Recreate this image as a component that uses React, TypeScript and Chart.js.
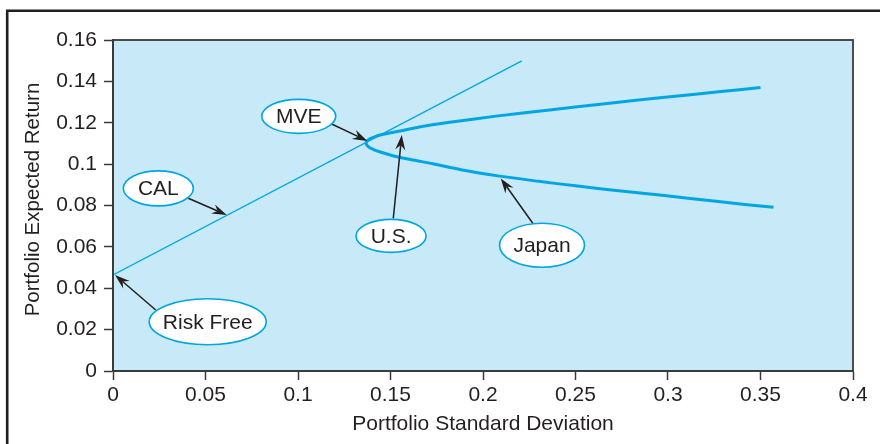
import React, { useEffect, useRef } from 'react';
import { Chart, registerables } from 'chart.js';

Chart.register(...registerables);

// ---- data ----
const calSigma = [0, 0.221];
const calReturn = [0.0464, 0.1499];

const frontierSigma = [
  0.35, 0.33, 0.297, 0.266, 0.236, 0.207, 0.182, 0.167, 0.155, 0.145, 0.1414, 0.1389, 0.1373, 0.1368,
  0.1372, 0.1384, 0.1404, 0.1432, 0.1508, 0.1609, 0.1729, 0.188, 0.209, 0.23, 0.25, 0.272, 0.298, 0.326, 0.357,
];
const frontierReturn = [
  0.137, 0.1352, 0.1322, 0.1292, 0.1262, 0.1232, 0.1202, 0.1182, 0.116, 0.1142, 0.1132, 0.1122, 0.1112, 0.1102,
  0.1092, 0.1082, 0.1072, 0.1062, 0.1042, 0.1022, 0.1002, 0.0973, 0.0942, 0.0917, 0.0895, 0.0873, 0.0848, 0.082, 0.0791,
];

const xTickLabels = ['0', '0.05', '0.1', '0.15', '0.2', '0.25', '0.3', '0.35', '0.4'];
const yTickLabels = ['0', '0.02', '0.04', '0.06', '0.08', '0.1', '0.12', '0.14', '0.16'];

const xTitle = 'Portfolio Standard Deviation';
const yTitle = 'Portfolio Expected Return';

const noteLabels = ['MVE', 'CAL', 'Risk Free', 'U.S.', 'Japan'];

// ---- annotation layout (data coordinates) ----
const noteLayout = [
  { cx: 0.1004, cy: 0.1231, rx: 37, ry: 17, fx: 0.1182, fy: 0.1194, tx: 0.1375, ty: 0.1112 },
  { cx: 0.0245, cy: 0.0883, rx: 35, ry: 17.5, fx: 0.0407, fy: 0.0835, tx: 0.0615, ty: 0.0754 },
  { cx: 0.0512, cy: 0.0238, rx: 58.5, ry: 23, fx: 0.0231, fy: 0.0295, tx: 0.0011, ty: 0.0464 },
  { cx: 0.1503, cy: 0.0653, rx: 35, ry: 16.5, fx: 0.1515, fy: 0.0738, tx: 0.1561, ty: 0.1141 },
  { cx: 0.2319, cy: 0.0608, rx: 42.5, ry: 22, fx: 0.2269, fy: 0.0714, tx: 0.2096, ty: 0.0931 },
];

const FONT = '"Liberation Sans", Arial, Helvetica, sans-serif';
const INK = '#231f20';
const BLUE = '#00a6e4';
const PLOT_BG = '#c7e9f8';

function drawArrow(ctx: CanvasRenderingContext2D, x1: number, y1: number, x2: number, y2: number) {
  const ang = Math.atan2(y2 - y1, x2 - x1);
  const len = 15;
  const half = 5;
  const notch = 10;
  const bx = x2 - Math.cos(ang) * notch;
  const by = y2 - Math.sin(ang) * notch;
  ctx.save();
  ctx.strokeStyle = INK;
  ctx.fillStyle = INK;
  ctx.lineWidth = 1.5;
  ctx.beginPath();
  ctx.moveTo(x1, y1);
  ctx.lineTo(bx, by);
  ctx.stroke();
  const px = -Math.sin(ang);
  const py = Math.cos(ang);
  const baseX = x2 - Math.cos(ang) * len;
  const baseY = y2 - Math.sin(ang) * len;
  ctx.beginPath();
  ctx.moveTo(x2, y2);
  ctx.lineTo(baseX + px * half, baseY + py * half);
  ctx.lineTo(bx, by);
  ctx.lineTo(baseX - px * half, baseY - py * half);
  ctx.closePath();
  ctx.fill();
  ctx.restore();
}

const decorPlugin = {
  id: 'decor',
  beforeDraw(chart: any) {
    const { ctx, chartArea: a } = chart;
    ctx.save();
    ctx.fillStyle = '#ffffff';
    ctx.fillRect(0, 0, chart.width, chart.height);
    ctx.fillStyle = PLOT_BG;
    ctx.fillRect(a.left, a.top, a.right - a.left, a.bottom - a.top);
    ctx.restore();
  },
  afterDatasetsDraw(chart: any) {
    const { ctx, chartArea: a, scales } = chart;
    const xs = scales.x;
    const ys = scales.y;
    ctx.save();
    ctx.strokeStyle = '#3a3a3a';
    ctx.lineWidth = 1.8;
    ctx.strokeRect(a.left, a.top, a.right - a.left, a.bottom - a.top);
    ctx.restore();

    noteLayout.forEach((n) => {
      drawArrow(
        ctx,
        xs.getPixelForValue(n.fx),
        ys.getPixelForValue(n.fy),
        xs.getPixelForValue(n.tx),
        ys.getPixelForValue(n.ty)
      );
    });
    noteLayout.forEach((n, i) => {
      const cx = xs.getPixelForValue(n.cx);
      const cy = ys.getPixelForValue(n.cy);
      ctx.save();
      ctx.beginPath();
      ctx.ellipse(cx, cy, n.rx, n.ry, 0, 0, Math.PI * 2);
      ctx.fillStyle = '#ffffff';
      ctx.fill();
      ctx.lineWidth = 1.6;
      ctx.strokeStyle = BLUE;
      ctx.stroke();
      ctx.fillStyle = INK;
      ctx.font = `21px ${FONT}`;
      ctx.textAlign = 'center';
      ctx.textBaseline = 'middle';
      ctx.fillText(noteLabels[i], cx, cy + 1);
      ctx.restore();
    });
  },
  afterDraw(chart: any) {
    const { ctx, chartArea: a } = chart;
    // y-axis title (slightly above the plot's centre, as in the reference)
    ctx.save();
    ctx.translate(33.5, (a.top + a.bottom) / 2 - 6);
    ctx.rotate(-Math.PI / 2);
    ctx.fillStyle = INK;
    ctx.font = `20.5px ${FONT}`;
    ctx.textAlign = 'center';
    ctx.textBaseline = 'middle';
    ctx.fillText(yTitle, 0, 0);
    ctx.restore();

    // outer frame
    ctx.save();
    ctx.strokeStyle = INK;
    ctx.lineWidth = 2.6;
    ctx.beginPath();
    ctx.moveTo(7.2, chart.height + 2);
    ctx.lineTo(7.2, 10.7);
    ctx.lineTo(chart.width + 2, 10.7);
    ctx.stroke();
    ctx.restore();
  },
};

export default function App() {
  const ref = useRef<HTMLCanvasElement | null>(null);

  useEffect(() => {
    if (!ref.current) return;
    const calData = calSigma.map((x, i) => ({ x, y: calReturn[i] }));
    const frontierData = frontierSigma.map((x, i) => ({ x, y: frontierReturn[i] }));
    const chart = new Chart(ref.current, {
      type: 'scatter',
      data: {
        datasets: [
          {
            label: 'CAL',
            data: calData,
            showLine: true,
            borderColor: BLUE,
            borderWidth: 1.3,
            pointRadius: 0,
            fill: false,
          },
          {
            label: 'Frontier',
            data: frontierData,
            showLine: true,
            borderColor: BLUE,
            borderWidth: 3,
            pointRadius: 0,
            tension: 0.3,
            borderCapStyle: 'butt',
            borderJoinStyle: 'round',
            fill: false,
          },
        ],
      },
      options: {
        responsive: false,
        animation: false,
        layout: { padding: { top: 40, right: 27, left: 0, bottom: 0 } },
        plugins: {
          legend: { display: false },
          tooltip: { enabled: false },
          title: { display: false },
        },
        scales: {
          x: {
            type: 'linear',
            min: 0,
            max: 0.4,
            afterFit: (s: any) => {
              s.height = 73;
            },
            ticks: {
              stepSize: 0.05,
              autoSkip: false,
              maxRotation: 0,
              color: INK,
              padding: 3,
              font: { family: FONT, size: 21 },
              callback: (_v: any, i: number) => xTickLabels[i],
            },
            grid: {
              drawOnChartArea: false,
              drawTicks: true,
              tickLength: 9,
              tickColor: '#3a3a3a',
              tickWidth: 1.5,
            },
            border: { display: true, color: '#3a3a3a', width: 1.8 },
            title: {
              display: true,
              text: xTitle,
              color: INK,
              font: { family: FONT, size: 21 },
              padding: { top: 0, bottom: 7 },
            },
          },
          y: {
            type: 'linear',
            min: 0,
            max: 0.16,
            afterFit: (s: any) => {
              s.width = 113;
            },
            ticks: {
              stepSize: 0.02,
              autoSkip: false,
              color: INK,
              padding: 7,
              font: { family: FONT, size: 21 },
              callback: (_v: any, i: number) => yTickLabels[i],
            },
            grid: {
              drawOnChartArea: false,
              drawTicks: true,
              tickLength: 9,
              tickColor: '#3a3a3a',
              tickWidth: 1.5,
            },
            border: { display: true, color: '#3a3a3a', width: 1.8 },
            title: { display: false },
          },
        },
      },
      plugins: [decorPlugin],
    });
    return () => chart.destroy();
  }, []);

  return (
    <div style={{ position: 'absolute', left: 0, top: 0, width: 880, height: 444 }}>
      <canvas ref={ref} width={880} height={444} style={{ display: 'block' }} />
    </div>
  );
}
